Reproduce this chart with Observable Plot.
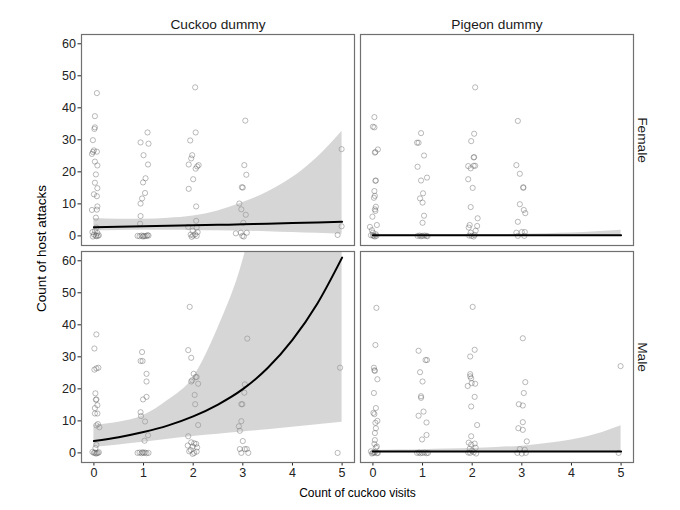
<!DOCTYPE html>
<html>
<head>
<meta charset="utf-8">
<script src="https://cdn.jsdelivr.net/npm/d3@7"></script>
<script src="https://cdn.jsdelivr.net/npm/@observablehq/plot@0.6"></script>
<style>
  html, body { margin: 0; padding: 0; background: #fff; }
  svg { display: block; }
</style>
</head>
<body>
<script>
// Facet categories
const species = ["Cuckoo dummy", "Pigeon dummy"];
const sexes = ["Female", "Male"];
const xTicks = [0, 1, 2, 3, 4, 5];
const yTicks = [0, 10, 20, 30, 40, 50, 60];

const cuckooFemale = [
  [0.06,44.6],[0.02,37.4],[0.02,33.9],[0.01,33.4],[-0.02,29.9],[0.0,26.7],[0.06,26.3],[-0.02,26.2],[-0.04,25.6],
  [0.02,23.2],[0.07,22.0],[0.04,19.2],[0.02,16.6],[0.07,14.9],[0.0,13.0],[0.06,12.4],[0.07,9.2],[-0.04,8.1],
  [0.06,8.2],[0.04,5.7],[0.05,2.6],[0.02,1.6],[-0.03,1.2],[0.07,0.9],[0.0,0.4],[0.04,0.1],[0.08,0.0],
  [-0.02,-0.2],[0.05,-0.1],[0.1,0.2],
  [1.08,32.3],[0.94,29.2],[1.1,28.8],[1.0,25.2],[1.09,22.3],[1.04,18.0],[0.99,16.7],[1.03,13.4],[0.97,11.7],
  [0.94,10.1],[0.94,6.2],[0.93,3.8],[0.88,0],[0.92,-0.1],[0.96,0.1],[1.0,0],[1.03,-0.1],[1.06,0],[1.1,0.1],
  [0.99,-0.2],[1.08,0.2],
  [2.04,46.4],[2.05,32.3],[1.94,29.8],[1.98,25.2],[1.96,24.2],[1.91,22.3],[2.11,22.1],[2.08,21.7],[2.05,21.0],
  [2.0,17.7],[1.91,14.7],[2.06,9.2],[2.06,4.7],[1.9,2.8],[2.07,2.6],[1.99,1.6],[2.09,1.2],[1.95,0.4],[2.04,0.5],
  [1.97,-0.3],[2.07,0],[2.0,0.1],
  [3.05,36.0],[3.03,22.1],[3.07,19.1],[2.98,15.2],[3.0,15.1],[2.93,10.1],[2.97,8.3],[3.06,6.6],[3.01,4.1],
  [2.86,0.8],[2.96,1.0],[3.08,1.0],[2.99,0],[3.02,-0.2],
  [4.99,27.1],[4.99,3.0],[4.91,0.3]
];
const pigeonFemale = [
  [0.03,37.1],[0.0,34.1],[0.03,33.9],[0.1,27.0],[0.05,26.2],[0.04,26.0],[0.06,17.3],[0.05,17.2],[0.03,14.0],
  [0.04,12.5],[0.02,11.9],[0.06,9.1],[0.04,8.3],[0.05,7.8],[-0.01,6.0],[0.08,3.4],[-0.06,2.8],[-0.02,1.8],
  [0.0,1.0],[0.06,0.5],[-0.04,0.2],[0.02,0],[0.07,0],[0.04,-0.2],[0.0,0.1],
  [0.97,32.1],[0.89,29.1],[0.92,29.1],[1.03,25.1],[0.9,21.6],[1.09,18.2],[0.97,17.3],[1.01,13.3],[0.95,11.7],
  [1.0,10.4],[1.03,6.3],[1.0,4.1],[0.9,0],[0.94,0.1],[0.97,-0.1],[1.0,0],[1.04,0.1],[1.08,0],[1.1,-0.1],
  [2.06,46.4],[2.04,31.9],[1.98,29.6],[2.03,24.5],[2.04,24.6],[1.92,21.8],[1.97,21.1],[2.03,21.9],[2.06,21.9],
  [1.92,17.7],[2.01,15.0],[1.97,9.0],[2.11,5.5],[1.95,3.4],[1.93,2.6],[2.1,3.1],[2.07,1.6],[1.97,1.0],
  [2.05,0.3],[1.99,0],[2.03,-0.2],[1.94,0.1],
  [2.92,35.9],[2.89,22.1],[2.96,19.4],[3.03,15.2],[3.03,15.0],[2.96,9.9],[3.04,8.1],[3.07,7.1],[2.92,4.4],
  [2.89,1.0],[3.0,1.2],[3.06,1.2],[2.92,0],[3.05,0]
];
const cuckooMale = [
  [0.05,37.0],[0.01,32.6],[0.01,26.0],[0.05,26.4],[0.09,26.6],[0.03,18.6],[0.05,16.7],[0.04,16.6],[0.07,14.9],
  [0.02,14.0],[0.07,12.3],[0.02,12.3],[0.08,9.0],[0.11,8.0],[0.05,8.6],[0.05,2.5],[0.03,1.5],[-0.03,0.3],
  [0.0,0],[0.04,-0.2],[0.08,0],[0.1,0.2],[0.02,0.1],[0.06,-0.1],
  [0.97,31.5],[0.94,28.7],[0.98,28.7],[1.06,24.7],[1.06,22.3],[1.06,17.5],[0.99,16.7],[0.94,12.7],[0.95,11.5],
  [1.03,9.8],[1.09,5.5],[1.02,3.8],[0.88,0],[0.92,0.1],[0.96,-0.1],[1.0,0],[1.03,0.1],[1.06,-0.1],[1.1,0],[0.98,0.2],
  [1.93,45.6],[1.9,32.1],[1.96,29.7],[2.01,24.7],[2.05,23.7],[2.07,23.7],[1.98,22.7],[1.96,22.3],[2.1,21.6],
  [2.03,18.1],[2.04,15.2],[2.1,8.7],[1.9,5.2],[1.96,3.3],[2.02,3.0],[2.06,2.8],[1.89,2.3],[1.99,2.0],[2.08,1.7],
  [1.92,0.5],[2.02,0],[1.99,-0.3],[2.07,0.4],[1.95,0.9],
  [3.09,35.7],[3.04,21.4],[3.03,18.8],[2.97,15.2],[2.99,15.2],[2.97,9.9],[2.92,8.3],[2.94,6.9],[3.0,3.7],
  [2.94,1.2],[3.04,1.2],[3.08,1.2],[2.97,0],[3.11,0],
  [4.96,26.6],[4.91,0]
];
const pigeonMale = [
  [0.07,45.3],[0.05,33.7],[0.02,26.6],[0.03,25.8],[0.04,25.6],[0.09,23.0],[0.02,18.7],[0.06,14.0],[0.01,12.5],
  [0.03,12.1],[0.09,10.0],[0.05,9.4],[0.06,7.7],[0.04,6.2],[0.04,4.0],[0.03,2.8],[0.08,2.0],[0.06,1.7],
  [-0.04,0.5],[0.0,0],[0.04,0.2],[0.08,-0.1],[0.1,0],[-0.02,-0.2],[0.02,0.1],
  [0.92,31.9],[1.06,29.0],[1.09,29.0],[0.95,25.2],[1.0,22.3],[0.97,17.7],[0.97,17.2],[1.02,12.9],[0.92,11.6],
  [1.08,9.5],[1.08,5.6],[0.99,4.2],[0.89,0],[0.93,0.1],[0.96,-0.1],[1.0,0],[1.04,0.1],[1.08,-0.1],[1.11,0],
  [2.01,45.6],[2.05,32.2],[1.96,30.1],[1.96,24.6],[1.96,23.9],[1.98,23.3],[1.91,20.9],[1.99,21.8],[2.06,21.6],
  [2.05,17.5],[1.98,14.5],[2.1,8.7],[1.98,5.2],[1.93,3.2],[1.98,2.6],[2.05,2.9],[2.07,1.6],[1.95,1.3],
  [2.0,0.7],[2.03,0.2],[1.96,0],[2.08,-0.2],[1.92,0.1],
  [3.02,35.8],[3.07,22.1],[3.04,18.7],[2.94,15.2],[3.02,14.8],[3.02,9.6],[2.93,7.7],[3.02,7.2],[3.1,3.6],
  [2.96,1.2],[3.06,1.0],[2.91,0],[3.0,-0.2],[3.08,0],
  [4.99,27.1],[4.95,0]
];

// Fitted curves and confidence bands, read at these x positions
const fitX = [0, 0.5, 1, 1.5, 2, 2.5, 3, 3.5, 4, 4.5, 5];
const cuckooFemaleFit = [2.7, 2.85, 3.0, 3.15, 3.3, 3.45, 3.6, 3.8, 4.0, 4.2, 4.4];
const cuckooFemaleLo  = [1.6, 1.7, 1.75, 1.75, 1.7, 1.6, 1.5, 1.3, 1.05, 0.8, 0.55];
const cuckooFemaleHi  = [5.4, 5.2, 5.2, 5.5, 6.2, 7.8, 10.4, 13.7, 18.2, 24.5, 32.7];
const pigeonFemaleFit = [0.2, 0.2, 0.2, 0.2, 0.2, 0.2, 0.2, 0.2, 0.2, 0.2, 0.2];
const pigeonFemaleLo  = [0.1, 0.1, 0.1, 0.1, 0.1, 0.1, 0.1, 0.1, 0.1, 0.1, 0.1];
const pigeonFemaleHi  = [0.35, 0.35, 0.35, 0.38, 0.4, 0.45, 0.5, 0.7, 0.9, 1.3, 1.8];
const cuckooMaleFit = [3.7, 4.9, 6.5, 8.6, 11.4, 15.1, 19.9, 26.5, 35.3, 46.6, 61.0];
const cuckooMaleLo  = [1.8, 2.5, 3.3, 4.3, 5.1, 5.8, 6.5, 7.2, 8.0, 8.8, 9.6];
const cuckooMaleHi  = [8.7, 9.6, 11.7, 16.5, 23.5, 39, 60, 95, 150, 240, 380];
const pigeonMaleFit = [0.45, 0.45, 0.45, 0.45, 0.45, 0.45, 0.45, 0.45, 0.45, 0.45, 0.45];
const pigeonMaleLo  = [0.25, 0.25, 0.25, 0.25, 0.25, 0.25, 0.2, 0.2, 0.15, 0.1, 0.1];
const pigeonMaleHi  = [0.8, 0.9, 1.0, 1.2, 1.4, 1.7, 2.1, 2.9, 4.0, 5.8, 8.5];

// Build tables
const panels = [
  {species: "Cuckoo dummy", sex: "Female", pts: cuckooFemale, fit: cuckooFemaleFit, lo: cuckooFemaleLo, hi: cuckooFemaleHi},
  {species: "Pigeon dummy", sex: "Female", pts: pigeonFemale, fit: pigeonFemaleFit, lo: pigeonFemaleLo, hi: pigeonFemaleHi},
  {species: "Cuckoo dummy", sex: "Male", pts: cuckooMale, fit: cuckooMaleFit, lo: cuckooMaleLo, hi: cuckooMaleHi},
  {species: "Pigeon dummy", sex: "Male", pts: pigeonMale, fit: pigeonMaleFit, lo: pigeonMaleLo, hi: pigeonMaleHi}
];
const points = panels.flatMap(p => p.pts.map(([x, y]) => ({species: p.species, sex: p.sex, x, y})));
const fits = panels.flatMap(p => fitX.map((x, i) => ({species: p.species, sex: p.sex, x, fit: p.fit[i], lo: p.lo[i], hi: p.hi[i]})));
const topStrips = species.map(s => ({species: s, sex: "Female"}));
const rightStrips = sexes.map(s => ({species: "Pigeon dummy", sex: s}));

const font = "'Liberation Sans', Arial, Helvetica, sans-serif";

const chart = Plot.plot({
  width: 680,
  height: 510,
  marginTop: 33,
  marginBottom: 48,
  marginLeft: 80,
  marginRight: 46,
  style: {fontFamily: font, fontSize: "12.5px", color: "#222", background: "#fff"},
  fx: {domain: species, padding: 0.0214, axis: null},
  fy: {domain: sexes, padding: 0.028, axis: null},
  x: {domain: [-0.25, 5.25], ticks: xTicks, tickFormat: d3.format("d"), tickSize: 3.5, tickPadding: 2, label: null},
  y: {domain: [-3, 62.9], ticks: yTicks, tickFormat: d3.format("d"), tickSize: 3.5, tickPadding: 2, label: null},
  marks: [
    Plot.dot(points, {x: "x", y: "y", fx: "species", fy: "sex", r: 2.6, stroke: "#555", strokeOpacity: 0.5, strokeWidth: 0.8, fill: "none"}),
    Plot.areaY(fits, {x: "x", y1: "lo", y2: "hi", fx: "species", fy: "sex", z: d => d.species + d.sex, fill: "#999", fillOpacity: 0.4, curve: "monotone-x", clip: true}),
    Plot.line(fits, {x: "x", y: "fit", fx: "species", fy: "sex", z: d => d.species + d.sex, stroke: "#000", strokeWidth: 2, curve: "monotone-x", clip: true}),
    Plot.frame({stroke: "#707070", strokeWidth: 1.2}),
    Plot.text(topStrips, {fx: "species", fy: "sex", text: "species", frameAnchor: "top", dy: -9.5, lineAnchor: "middle", textAnchor: "middle", fontSize: 13.7, fill: "#1a1a1a"}),
    Plot.text(rightStrips, {fx: "species", fy: "sex", text: "sex", frameAnchor: "right", dx: 8.4, rotate: 90, lineAnchor: "middle", textAnchor: "middle", fontSize: 13.7, fill: "#1a1a1a"}),
    Plot.text([{species: "Cuckoo dummy", sex: "Female", t: "Count of host attacks"}], {fx: "species", fy: "sex", text: "t", frameAnchor: "bottom-left", dx: -39.5, dy: 3, rotate: -90, lineAnchor: "middle", textAnchor: "middle", fontSize: 13.5, fill: "#000"}),
    Plot.text([{species: "Cuckoo dummy", sex: "Male", t: "Count of cuckoo visits"}], {fx: "species", fy: "sex", text: "t", frameAnchor: "bottom-right", dx: 3, dy: 30.8, lineAnchor: "middle", textAnchor: "middle", fontSize: 12, fill: "#000"})
  ]
});
document.body.appendChild(chart);
</script>
</body>
</html>
